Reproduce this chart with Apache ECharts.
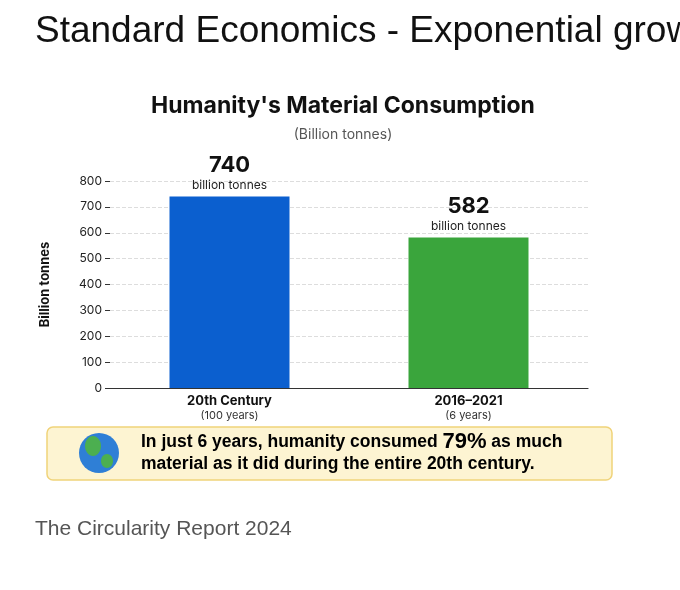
<!DOCTYPE html>
<html><head><meta charset="utf-8">
<script src="https://cdn.jsdelivr.net/npm/echarts@6/dist/echarts.min.js"></script>
<style>html,body{margin:0;padding:0;background:#fff}#c{width:680px;height:590px}</style>
</head><body><div id="c"></div>
<script>
var categories = ['20th Century', '2016–2021'];
var periods = ['(100 years)', '(6 years)'];
var values = [740, 582];
var colors = ['#0b5fcf', '#3aa53c'];
var yTicks = [0, 100, 200, 300, 400, 500, 600, 700, 800];

var chart = echarts.init(document.getElementById('c'));
var font = 'Inter, "Noto Sans", sans-serif';
chart.setOption({
  backgroundColor: '#fff',
  textStyle: { fontFamily: font },
  title: [
    { text: 'Standard Economics - Exponential growth', left: 30, top: 8,
      textStyle: { fontFamily: 'Liberation Sans, Arial, sans-serif', fontSize: 37, fontWeight: 'normal', color: '#111' } },
    { text: "Humanity's Material Consumption", left: 338, top: 90, textAlign: 'center',
      textStyle: { fontSize: 23, fontWeight: 'bold', color: '#111' } },
    { text: '(Billion tonnes)', left: 338, top: 123, textAlign: 'center',
      textStyle: { fontSize: 14, fontWeight: 'normal', color: '#555' } },
    { text: 'The Circularity Report 2024', left: 30, top: 514,
      textStyle: { fontFamily: 'Liberation Sans, Arial, sans-serif', fontSize: 21, fontWeight: 'normal', color: '#555' } }
  ],
  grid: { left: 110, right: 92, top: 181, bottom: 202 },
  xAxis: {
    type: 'category', data: categories,
    axisLine: { lineStyle: { color: '#333', width: 1.2 } },
    axisTick: { show: false },
    axisLabel: {
      margin: 6,
      formatter: function (v, i) { return '{a|' + v + '}\n{b|' + periods[i] + '}'; },
      rich: { a: { fontSize: 13, fontWeight: 'bold', color: '#111', lineHeight: 15 },
              b: { fontSize: 11, color: '#333', lineHeight: 13 } }
    }
  },
  yAxis: {
    type: 'value', min: 0, max: 800, interval: 100,
    name: 'Billion tonnes', nameLocation: 'middle', nameGap: 58,
    nameTextStyle: { fontSize: 13, fontWeight: 'bold', color: '#111' },
    axisLine: { show: false },
    axisTick: { show: true, length: 5, lineStyle: { color: '#333' } },
    axisLabel: { fontSize: 12, color: '#222', margin: 8,
      formatter: function (v) { return yTicks.indexOf(v) >= 0 ? v : ''; } },
    splitLine: { lineStyle: { type: 'dashed', color: '#ddd' } }
  },
  series: [{
    type: 'bar', barWidth: 120,
    data: values.map(function (v, i) { return { value: v, itemStyle: { color: colors[i] } }; }),
    label: {
      show: true, position: 'top', distance: 4,
      formatter: function (p) { return '{n|' + p.value + '}\n{u|billion tonnes}'; },
      rich: { n: { fontSize: 22, fontWeight: 'bold', color: '#111', lineHeight: 26 },
              u: { fontSize: 12, color: '#222', lineHeight: 14 } }
    }
  }],
  graphic: [
    { type: 'rect', shape: { x: 47, y: 427, width: 565, height: 53, r: 6 },
      style: { fill: '#fdf4d2', stroke: '#f0d37a', lineWidth: 1.5 } },
    { type: 'circle', shape: { cx: 99, cy: 453, r: 20 }, style: { fill: '#2f7fd6' } },
    { type: 'ellipse', shape: { cx: 93, cy: 446, rx: 8, ry: 10 }, style: { fill: '#4caf50' } },
    { type: 'ellipse', shape: { cx: 107, cy: 461, rx: 6, ry: 7 }, style: { fill: '#4caf50' } },
    { type: 'text', left: 141, top: 431,
      style: { text: '{t|In just 6 years, humanity consumed }{p|79%}{t| as much}\n{t|material as it did during the entire 20th century.}',
        rich: { t: { fontSize: 17.5, fontWeight: 'bold', color: '#111', lineHeight: 22 },
                p: { fontSize: 22, fontWeight: 'bold', color: '#2f9a3a', lineHeight: 22 } } } }
  ]
});
</script></body></html>
